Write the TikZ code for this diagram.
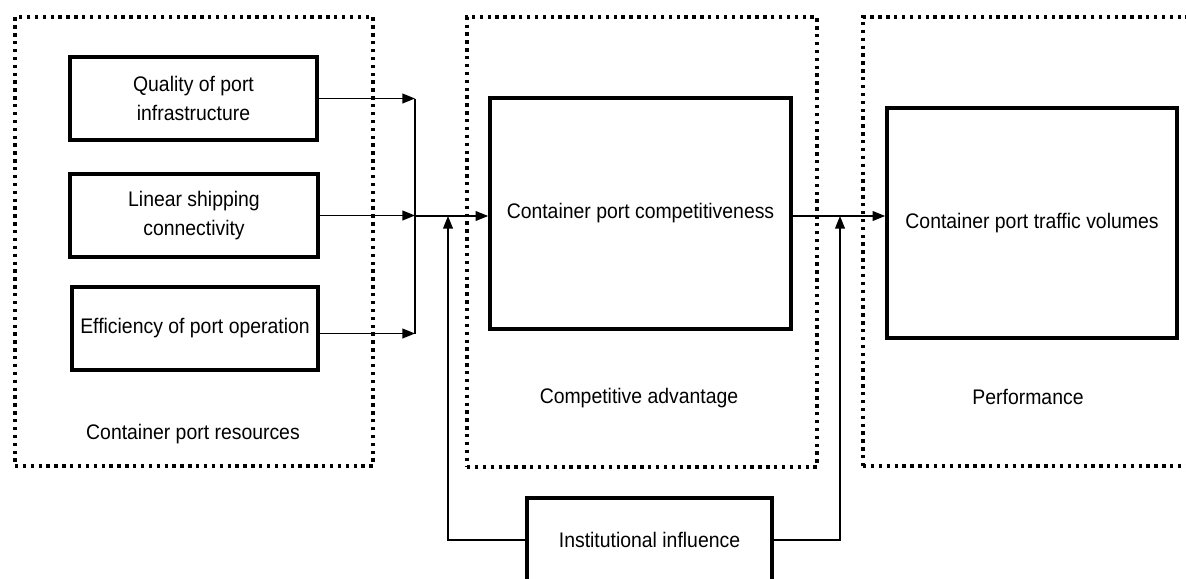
\documentclass[tikz,border=0pt]{standalone}
\usepackage{fontspec}
\setmainfont[FakeStretch=0.92]{Liberation Sans}
\usepackage{tikz}
\usetikzlibrary{positioning, calc, arrows.meta}

\tikzset{
    group/.style={
        draw,
        line width=2.2pt,
        dash pattern=on 2.4pt off 3.2pt,
        rectangle,
        inner sep=0pt
    },
    factor/.style={
        draw,
        line width=2.6pt,
        rectangle,
        align=center,
        inner sep=0pt
    },
    link/.style={
        line width=1pt,
        -{Triangle[length=9pt,width=7pt]}
    },
    wire/.style={
        line width=1pt
    }
}

\begin{document}
\begin{tikzpicture}[x=0.025cm, y=-0.025cm, font=\fontsize{15}{21}\selectfont]
                \useasboundingbox (0,0) rectangle (1186,579);

                \node[group, minimum width=358*0.025cm, minimum height=449*0.025cm] (resources) at (194,241.5) {};
                \node[group, minimum width=350*0.025cm, minimum height=450*0.025cm] (advantage) at (642,242) {};
                \node[group, minimum width=340*0.025cm, minimum height=449*0.025cm] (performance) at (1033,241.5) {};

                \node[factor, minimum width=247*0.025cm, minimum height=83*0.025cm] (quality) at (193.5,98.5) {Quality of port\\infrastructure};
                \node[factor, minimum width=248*0.025cm, minimum height=83*0.025cm] (linear) at (194,215.5) {Linear shipping\\connectivity};
                \node[factor, minimum width=246*0.025cm, minimum height=83*0.025cm] (efficiency) at (195,328.5) {Efficiency of port operation};

                \node[factor, minimum width=301*0.025cm, minimum height=231*0.025cm] (competitiveness) at (640.5,213.5) {Container port competitiveness};
                \node[factor, minimum width=290*0.025cm, minimum height=230*0.025cm] (traffic) at (1032,223) {Container port traffic volumes};
                \node[factor, minimum width=245*0.025cm, minimum height=84*0.025cm] (institutional) at (649.5,540) {Institutional influence};

                \node (resourceslabel) at (193,434) {Container port resources};
                \node (advantagelabel) at (639,398) {Competitive advantage};
                \node (performancelabel) at (1028,397) {Performance};

                \coordinate (bus) at (415,216);
                \coordinate (leftriser) at (448,540);
                \coordinate (rightriser) at (840,540);

                \draw[link] (quality.east) -- (quality.east -| bus);
                \draw[link] (linear.east) -- (linear.east -| bus);
                \draw[link] ($(efficiency.east)+(0,5)$) -- ($(efficiency.east -| bus)+(0,5)$);
                \draw[wire] (quality.east -| bus) -- ($(efficiency.east -| bus)+(0,5)$);
                \draw[link] (bus) -- (bus -| competitiveness.west);

                \draw[link] (institutional.west) -- (leftriser) -- (leftriser |- bus);
                \draw[link] (competitiveness.east |- bus) -- (bus -| traffic.west);
                \draw[link] (institutional.east) -- (rightriser) -- (rightriser |- bus);

            \end{tikzpicture}
\end{document}
